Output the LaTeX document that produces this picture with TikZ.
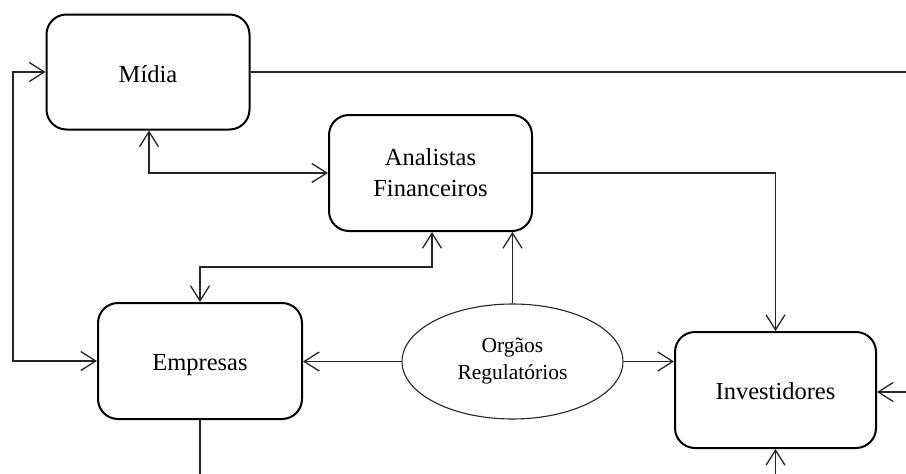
\documentclass[tikz,border=0pt]{standalone}
\usepackage{fontspec}
\setmainfont{Liberation Serif}
\usetikzlibrary{arrows.meta,shapes.geometric}
\begin{document}
\begin{tikzpicture}[x=1pt,y=-1pt,
  box/.style={draw=black, line width=2pt, rounded corners=20pt, inner sep=0pt,
    align=center, font=\fontsize{24.5}{31}\selectfont},
  oneline/.style={text height=18pt, text depth=0pt},
  oval/.style={draw=black!85, line width=1.1pt, ellipse, inner sep=0pt,
    align=center, font=\fontsize{21.5}{27}\selectfont},
  conn/.style={draw=black!85, line width=1.3pt},
  >={Straight Barb[length=15pt,width=19pt,line width=1.3pt]}
]
\useasboundingbox (0,0) rectangle (906,474);

\node[box, oneline, text height=20pt, minimum width=203pt, minimum height=115pt] (midia) at (148,72) {Mídia};
\node[box, minimum width=203pt, minimum height=116pt] (anal) at (430.5,173) {Analistas\\Financeiros};
\node[box, oneline, minimum width=204pt, minimum height=116pt] (emp) at (200,361) {Empresas};
\node[box, oneline, minimum width=201pt, minimum height=116pt] (inv) at (775.5,390) {Investidores};
\node[oval, minimum width=221pt, minimum height=115pt] (org) at (512.5,361.5) {Orgãos\\Regulatórios};

\coordinate (mout) at (906,72);
\coordinate (l1) at (13,72);
\coordinate (l2) at (13,361);
\coordinate (mb) at (149,173);
\coordinate (ae) at (300,267);
\coordinate (ebot) at (200,474);
\coordinate (ir) at (906,392);
\coordinate (ib) at (775.5,474);

% Midia out to right
\draw[conn] (midia.east) -- (mout);
% left loop Midia <-> Empresas
\draw[conn, <->] (midia.west) -- (l1) -- (l2) -- (emp.west);
% Midia <-> Analistas
\draw[conn, <->] (midia.south -| mb) -- (mb) -- (anal.west);
% Analistas -> Investidores
\draw[conn, ->] (anal.east) -| (inv.north);
% Analistas <-> Empresas
\draw[conn, <->] ([xshift=1.5pt]anal.south) |- (ae) -| (emp.north);
% Orgaos -> Analistas
\draw[conn, ->] (org.north) -- (org.north |- anal.south);
% Orgaos -> Empresas
\draw[conn, ->] (org.west) -- (org.west -| emp.east);
% Orgaos -> Investidores
\draw[conn, ->] (org.east) -- (org.east -| inv.west);
% Empresas down
\draw[conn] (emp.south) -- (ebot);
% into Investidores from right and bottom
\draw[conn, ->] (ir) -- (ir -| inv.east);
\draw[conn, ->] (ib) -- (inv.south);
\end{tikzpicture}
\end{document}
